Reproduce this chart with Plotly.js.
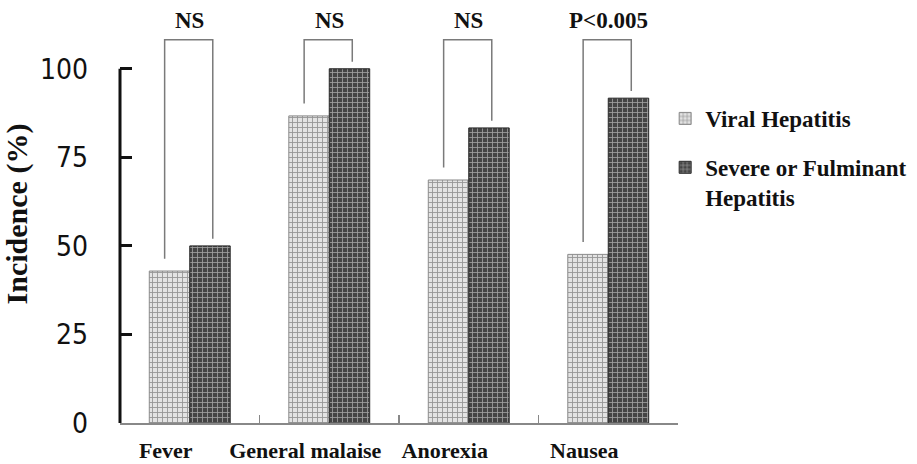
<!DOCTYPE html>
<html>
<head>
<meta charset="utf-8">
<script src="https://cdn.plot.ly/plotly-3.0.1.min.js"></script>
<style>
  html, body { margin: 0; padding: 0; background: #ffffff; }
  #chart { width: 917px; height: 464px; }
</style>
</head>
<body>
<div id="chart"></div>
<script>
// ---- data ----
const categories = ['Fever', 'General malaise', 'Anorexia', 'Nausea'];
const viralHepatitis = [42.9, 86.7, 68.6, 47.6];
const severeHepatitis = [50.0, 100.0, 83.3, 91.7];
const sigLabels = ['NS', 'NS', 'NS', 'P<0.005'];
const seriesNames = ['Viral Hepatitis', 'Severe or Fulminant<br>Hepatitis'];
const yTickVals = [0, 25, 50, 75, 100];

// ---- styling constants ----
const serifFamily = '"Liberation Serif", "Times New Roman", "DejaVu Serif", serif';
const serifBold = { family: serifFamily, size: 23, color: '#111', weight: 'bold' };
const bracketTop = 108.2;
const legLeftOffset = -0.18, legRightOffset = 0.165;
const legGapLeft = 3.5, legGapRight = 2.0;

const traces = [
  {
    type: 'bar', name: seriesNames[0], x: categories, y: viralHepatitis,
    legendgroup: 'a',
    marker: {
      color: '#d0d0d0',
      line: { color: '#8a8a8a', width: 1 },
      pattern: { shape: '+', bgcolor: '#e3e3e3', fgcolor: '#959595', size: 5, solidity: 0.32 }
    },
    hoverinfo: 'skip'
  },
  {
    type: 'bar', name: seriesNames[1], x: categories, y: severeHepatitis,
    legendgroup: 'b',
    marker: {
      color: '#555555',
      line: { color: '#2a2a2a', width: 1 },
      pattern: { shape: '+', bgcolor: '#444444', fgcolor: '#a0a0a0', size: 5, solidity: 0.3 }
    },
    hoverinfo: 'skip'
  }
];

const shapes = [
  // y-axis line from 0 to 100
  { type: 'line', xref: 'paper', yref: 'y', x0: 0, x1: 0, y0: 0, y1: 100,
    line: { color: '#111', width: 3 } }
];
const annotations = [];

categories.forEach((c, i) => {
  const xl = i + legLeftOffset, xr = i + legRightOffset;
  shapes.push({
    type: 'path', xref: 'x', yref: 'y',
    path: `M ${xl},${viralHepatitis[i] + legGapLeft} L ${xl},${bracketTop} L ${xr},${bracketTop} L ${xr},${severeHepatitis[i] + legGapRight}`,
    line: { color: '#7a7a7a', width: 1.5 }
  });
  annotations.push({
    x: i, y: 113.6, xref: 'x', yref: 'y', text: sigLabels[i], showarrow: false,
    font: serifBold, xanchor: 'center', yanchor: 'middle'
  });
});

const layout = {
  width: 917, height: 464,
  margin: { l: 120, r: 239, t: 5, b: 41 },
  paper_bgcolor: '#ffffff', plot_bgcolor: '#ffffff',
  barmode: 'group', bargap: 0.42, bargroupgap: 0,
  showlegend: true,
  legend: {
    x: 0.977, xanchor: 'left', y: 0.78, yanchor: 'top',
    font: serifBold, valign: 'top', tracegroupgap: 16,
    bgcolor: 'rgba(0,0,0,0)'
  },
  xaxis: {
    type: 'category', tickson: 'boundaries', ticks: 'inside', ticklen: 8,
    tickcolor: '#888', tickwidth: 1.5, tickangle: 0,
    showline: true, linecolor: '#888', linewidth: 2,
    showgrid: false, zeroline: false,
    tickfont: { family: serifFamily, size: 22, color: '#111', weight: 'bold' },
    ticklabelstandoff: 7, ticklabelshift: -24
  },
  yaxis: {
    range: [0, 118], tickvals: yTickVals, ticktext: yTickVals.map(String),
    ticks: 'inside', ticklen: 12, tickwidth: 3, tickcolor: '#111',
    showline: false, showgrid: false, zeroline: false,
    tickfont: { family: '"Liberation Sans Narrow", "DejaVu Sans Condensed", "Arial Narrow", sans-serif', size: 28, color: '#111' },
    ticklabelstandoff: 31,
    automargin: false,
    title: { text: 'Incidence (%)', standoff: 8, font: { family: serifFamily, size: 30, color: '#111', weight: 'bold' } }
  },
  shapes: shapes,
  annotations: annotations
};

Plotly.newPlot('chart', traces, layout, { displayModeBar: false, staticPlot: true });
</script>
</body>
</html>
